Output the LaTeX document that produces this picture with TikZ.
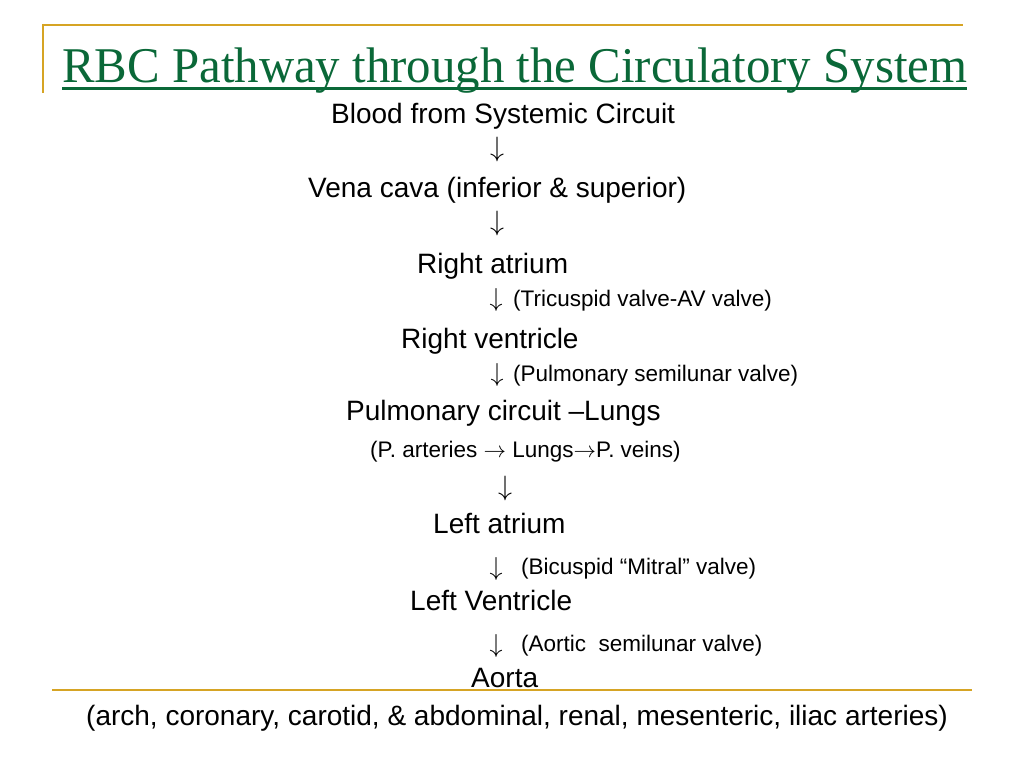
\RequirePackage{fix-cm}
\documentclass[tikz,border=0pt]{standalone}
\usepackage{fontspec}
\usepackage{graphicx}
\setmainfont{Liberation Sans}
\newfontfamily\titlefont{Liberation Serif}
\definecolor{gold}{RGB}{214,164,36}
\definecolor{titlegreen}{RGB}{10,104,56}
\begin{document}
\begin{tikzpicture}[x=1bp,y=-1bp,
  rule/.style={draw=gold,line width=2.2bp},
  big/.style={anchor=base west,inner sep=0pt,font=\fontsize{28bp}{32bp}\selectfont},
  small/.style={anchor=base west,inner sep=0pt,font=\fontsize{22.5bp}{26bp}\selectfont},
  arr/.style={anchor=center,inner sep=0pt,font=\fontsize{28bp}{32bp}\selectfont},
  sarr/.style={anchor=center,inner sep=0pt,font=\fontsize{26bp}{30bp}\selectfont}]
\useasboundingbox (0,0) rectangle (1024,768);
% decorative rules
\draw[rule] (42,25) -- (963,25);
\draw[rule] (43,24) -- (43,93);
\draw[rule] (52,690) -- (972,690);
% title
\node[anchor=base west,inner sep=0pt,text=titlegreen] (title) at (62,83)
  {\resizebox{905bp}{\height}{\titlefont\fontsize{50bp}{56bp}\selectfont RBC Pathway through the Circulatory System}};
\draw[titlegreen,line width=2.4bp] (62,88.5) -- (967,88.5);
% pathway
\node[big] (blood) at (331,123) {Blood from Systemic Circuit};
\node[arr] (a1) at (497,149) {$\downarrow$};
\node[big] (vena) at (308,197) {Vena cava (inferior \& superior)};
\node[arr] (a2) at (497,223.5) {$\downarrow$};
\node[big] (ra) at (417,273) {Right atrium};
\node[sarr] (a3) at (496,299.5) {$\downarrow$};
\node[small] (tri) at (513,306) {(Tricuspid valve-AV valve)};
\node[big] (rv) at (401,348) {Right ventricle};
\node[sarr] (a4) at (497,374.5) {$\downarrow$};
\node[small] (pulv) at (513,381) {(Pulmonary semilunar valve)};
\node[big] (pc) at (346,420) {Pulmonary circuit –Lungs};
\node[small] (pal) at (370,457) {(P. arteries $\rightarrow$ Lungs$\rightarrow$P. veins)};
\node[arr] (a5) at (505,488.5) {$\downarrow$};
\node[big] (la) at (433,533) {Left atrium};
\node[sarr] (a6) at (496,568.5) {$\downarrow$};
\node[small] (bic) at (521,574) {(Bicuspid “Mitral” valve)};
\node[big] (lv) at (410,610) {Left Ventricle};
\node[sarr] (a7) at (496,646) {$\downarrow$};
\node[small] (aov) at (521,651) {(Aortic\ \ semilunar valve)};
\node[big] (aorta) at (471,687) {Aorta};
\node[big] (arts) at (86,725) {(arch, coronary, carotid, \& abdominal, renal, mesenteric, iliac arteries)};
\end{tikzpicture}
\end{document}
